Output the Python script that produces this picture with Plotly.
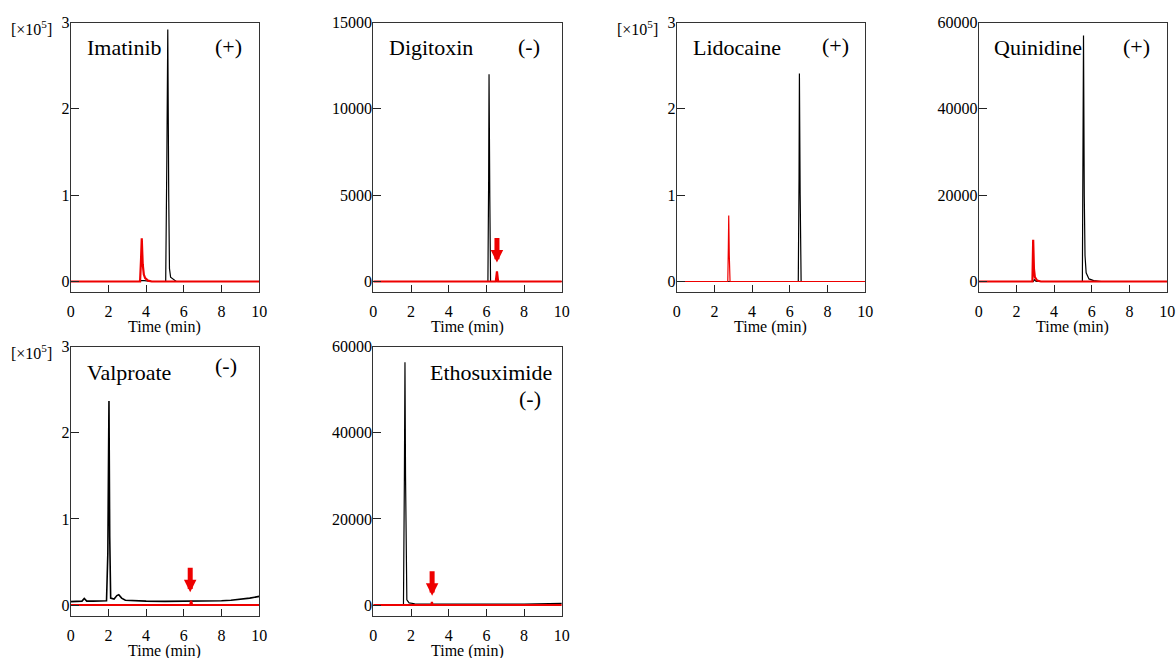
import plotly.graph_objects as go

# ---------------- data ----------------
names = ["Imatinib", "Digitoxin", "Lidocaine", "Quinidine", "Valproate", "Ethosuximide"]
modes = ["(+)", "(-)", "(+)", "(+)", "(-)", "(-)"]

# Imatinib (x10^5)
imatinib_black_t = [0, 3.60, 3.75, 3.90, 4.30, 5.04, 5.10, 5.15, 5.20, 5.24, 5.30, 5.45, 5.60, 10]
imatinib_black_y = [0, 0, 0.01, 0.01, 0, 0, 1.40, 2.92, 1.00, 0.15, 0.05, 0.02, 0, 0]
imatinib_red_t = [0, 3.68, 3.73, 3.77, 3.82, 3.88, 3.95, 4.10, 4.30, 10]
imatinib_red_y = [0, 0, 0.25, 0.50, 0.20, 0.08, 0.04, 0.01, 0, 0]

# Digitoxin
digitoxin_black_t = [0, 6.08, 6.12, 6.14, 6.18, 6.22, 10]
digitoxin_black_y = [0, 0, 6000, 12000, 5000, 0, 0]
digitoxin_red_t = [0, 6.50, 6.56, 6.62, 10]
digitoxin_red_y = [0, 0, 580, 0, 0]

# Lidocaine (x10^5)
lidocaine_black_t = [0, 6.45, 6.49, 6.51, 6.55, 6.60, 10]
lidocaine_black_y = [0, 0, 1.20, 2.41, 1.00, 0.0, 0.0]
lidocaine_red_t = [0, 2.71, 2.74, 2.76, 2.79, 2.83, 10]
lidocaine_red_y = [0, 0, 0.40, 0.765, 0.30, 0, 0]

# Quinidine
quinidine_black_t = [0, 2.90, 2.95, 3.05, 5.50, 5.54, 5.56, 5.60, 5.64, 5.70, 5.85, 6.10, 6.50, 10]
quinidine_black_y = [0, 0, 400, 0, 0, 30000, 57000, 20000, 6000, 2000, 600, 200, 0, 0]
quinidine_red_t = [0, 2.85, 2.87, 2.89, 2.93, 2.98, 3.10, 3.30, 10]
quinidine_red_y = [0, 0, 5000, 9660, 3000, 1000, 200, 0, 0]

# Valproate (x10^5)
valproate_black_t = [0, 0.30, 0.60, 0.72, 0.78, 0.85, 1.20, 1.90, 1.97, 2.00, 2.03, 2.07, 2.12,
                     2.30, 2.45, 2.55, 2.70, 2.90, 3.20, 4, 5, 6, 7, 8, 8.5, 9, 9.5, 10]
valproate_black_y = [0.040, 0.042, 0.045, 0.075, 0.060, 0.045, 0.045, 0.050, 0.60, 1.80, 2.37, 0.80, 0.08,
                     0.07, 0.11, 0.12, 0.08, 0.055, 0.050, 0.045, 0.042, 0.042, 0.045, 0.050, 0.055, 0.065, 0.080, 0.100]
valproate_red_t = [0, 6.34, 6.39, 6.44, 10]
valproate_red_y = [0, 0, 0.05, 0, 0]

# Ethosuximide
ethosuximide_black_t = [0, 1.60, 1.65, 1.68, 1.71, 1.74, 1.78, 1.90, 2.20, 3, 6, 8, 10]
ethosuximide_black_y = [0, 0, 30000, 56400, 30000, 6000, 1200, 500, 300, 200, 150, 200, 400]
ethosuximide_red_t = [0, 3.08, 3.11, 3.14, 10]
ethosuximide_red_y = [0, 0, 700, 0, 0]

black_t = [imatinib_black_t, digitoxin_black_t, lidocaine_black_t, quinidine_black_t, valproate_black_t, ethosuximide_black_t]
black_y = [imatinib_black_y, digitoxin_black_y, lidocaine_black_y, quinidine_black_y, valproate_black_y, ethosuximide_black_y]
red_t = [imatinib_red_t, digitoxin_red_t, lidocaine_red_t, quinidine_red_t, valproate_red_t, ethosuximide_red_t]
red_y = [imatinib_red_y, digitoxin_red_y, lidocaine_red_y, quinidine_red_y, valproate_red_y, ethosuximide_red_y]

y_ticks = [[0, 1, 2, 3], [0, 5000, 10000, 15000], [0, 1, 2, 3], [0, 20000, 40000, 60000],
           [0, 1, 2, 3], [0, 20000, 40000, 60000]]
y_ranges = [[-0.116, 3], [-580, 15000], [-0.116, 3], [-2320, 60000], [-0.124, 3], [-2480, 60000]]
x_ticks = [0, 2, 4, 6, 8, 10]
scaled = [True, False, True, False, True, False]

# arrows: (panel, time, tip value)
arrow_panel = [1, 4, 5]
arrow_t = [6.56, 6.34, 3.12]
arrow_y = [1100, 0.147, 2160]

# ---------------- layout ----------------
W, H = 1176, 658
panel_x0 = [70.7, 373.3, 676.7, 978.7, 70.7, 373.3]
panel_w = 188.5
panel_top = [22.5, 22.5, 22.5, 22.5, 346.7, 346.7]
panel_h = 269.0

FONT = "Liberation Serif, Times New Roman, serif"
fig = go.Figure()
annotations = []

for i in range(6):
    xa = "x" if i == 0 else f"x{i+1}"
    ya = "y" if i == 0 else f"y{i+1}"
    red_w = 1.2 if i == 2 else 2.2
    black_w = 1.6 if i == 4 else 1.2
    fig.add_trace(go.Scatter(x=black_t[i], y=black_y[i], mode="lines",
                             line=dict(color="black", width=black_w), xaxis=xa, yaxis=ya,
                             showlegend=False, hoverinfo="skip"))
    fig.add_trace(go.Scatter(x=red_t[i], y=red_y[i], mode="lines",
                             line=dict(color="#ee0000", width=red_w), xaxis=xa, yaxis=ya,
                             showlegend=False, hoverinfo="skip"))
    x0 = panel_x0[i]
    x1 = x0 + panel_w
    yt = panel_top[i]
    yb = yt + panel_h
    common = dict(showline=True, mirror=True, linecolor="#333", linewidth=1, automargin=False,
                  ticks="inside", tickcolor="#222", tickwidth=1, showgrid=False, zeroline=False,
                  tickfont=dict(family=FONT, size=16, color="black"))
    fig.layout[f"xaxis{'' if i == 0 else i+1}"] = dict(
        domain=[x0 / W, x1 / W], anchor=ya, range=[0, 10], tickvals=x_ticks, ticklen=7,
        ticklabelstandoff=5, **common)
    fig.layout[f"yaxis{'' if i == 0 else i+1}"] = dict(
        domain=[1 - yb / H, 1 - yt / H], anchor=xa, range=y_ranges[i], tickvals=y_ticks[i], ticklen=8,
        tickformat="d", ticklabelstandoff=-3,
        **common)
    xd = f"{xa} domain"
    yd = f"{ya} domain"
    # x axis title
    annotations.append(dict(text="Time (min)", xref=xd, yref="paper", x=0.5, y=1 - (yb + 35) / H,
                            xanchor="center", yanchor="middle", showarrow=False,
                            font=dict(family=FONT, size=16, color="black")))
    # compound name and polarity
    name_left = [85, 387, 691, 992, 85, 428][i]
    name_cy = [47, 47, 47, 47, 373, 373][i]
    mode_cx = [228, 529, 835, 1136, 226, 530][i]
    mode_cy = [46, 46, 45, 46, 366, 398][i]
    annotations.append(dict(text=names[i], xref=xd, yref=yd, x=(name_left - x0) / panel_w,
                            y=(yb - name_cy) / panel_h, xanchor="left", yanchor="middle",
                            showarrow=False, font=dict(family=FONT, size=22, color="black")))
    annotations.append(dict(text=modes[i], xref=xd, yref=yd, x=(mode_cx - x0) / panel_w,
                            y=(yb - mode_cy) / panel_h, xanchor="center", yanchor="middle",
                            showarrow=False, font=dict(family=FONT, size=22, color="black")))
    if scaled[i]:
        annotations.append(dict(text="[×10<sup>5</sup>]", xref="paper", yref="paper",
                                x=(x0 - 17) / W, y=1 - (yt + 5) / H, xanchor="right", yanchor="middle",
                                showarrow=False, font=dict(family=FONT, size=16, color="black")))

for p, t, v in zip(arrow_panel, arrow_t, arrow_y):
    xa = f"x{p+1}"
    ya = f"y{p+1}"
    annotations.append(dict(x=t, y=v, xref=xa, yref=ya, ax=0, ay=-26, showarrow=True, text="",
                            arrowhead=2, arrowsize=0.5, arrowwidth=5, arrowcolor="#ee0000"))

fig.update_layout(width=W, height=H, margin=dict(l=0, r=0, t=0, b=0),
                  paper_bgcolor="white", plot_bgcolor="white", annotations=annotations,
                  font=dict(family=FONT, size=16, color="black"))

fig.write_html("out.html", config={"displayModeBar": False},
               post_script="document.body.style.margin='0';document.body.style.overflow='hidden';")
